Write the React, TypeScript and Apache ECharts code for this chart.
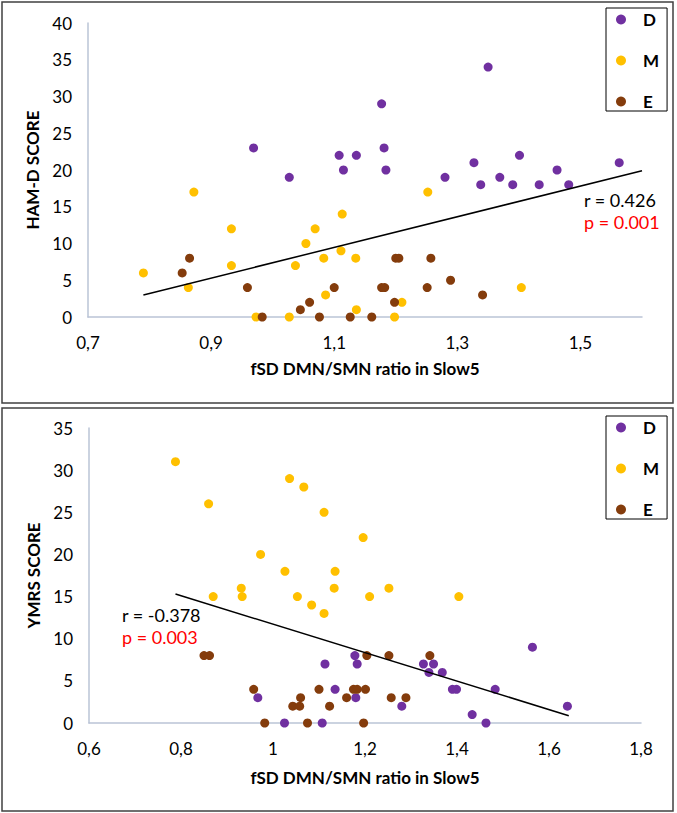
import React, { useEffect, useRef } from "react";
import * as echarts from "echarts";

// ---- Data ----
const groupNames = ["D", "M", "E"];
const groupColors = ["#7030A0", "#FFC000", "#843C0C"];

// Top panel: HAM-D score vs fSD DMN/SMN ratio
const hamD_D: number[][] = [
  [0.969, 23], [1.027, 19], [1.108, 22], [1.115, 20], [1.136, 22], [1.177, 29],
  [1.181, 23], [1.184, 20], [1.28, 19], [1.327, 21], [1.338, 18], [1.35, 34],
  [1.369, 19], [1.39, 18], [1.401, 22], [1.433, 18], [1.462, 20], [1.481, 18],
  [1.563, 21],
];
const hamD_M: number[][] = [
  [0.79, 6], [0.872, 17], [0.863, 4], [0.933, 12], [0.933, 7], [0.973, 0],
  [1.027, 0], [1.037, 7], [1.054, 10], [1.069, 12], [1.083, 8], [1.086, 3],
  [1.113, 14], [1.111, 9], [1.135, 8], [1.136, 1], [1.198, 0], [1.21, 2],
  [1.252, 17], [1.404, 4],
];
const hamD_E: number[][] = [
  [0.853, 6], [0.865, 8], [0.959, 4], [0.983, 0], [1.045, 1], [1.06, 2],
  [1.076, 0], [1.1, 4], [1.126, 0], [1.161, 0], [1.177, 4], [1.182, 4],
  [1.198, 2], [1.2, 8], [1.205, 8], [1.251, 4], [1.257, 8], [1.289, 5],
  [1.341, 3],
];
const hamD_trend: number[][] = [[0.79, 3.0], [1.6, 19.9]];
const hamD_stats = ["r = 0.426", "p = 0.001"];

// Bottom panel: YMRS score vs fSD DMN/SMN ratio
const ymrs_D: number[][] = [
  [0.967, 3], [1.025, 0], [1.107, 0], [1.113, 7], [1.135, 4], [1.178, 8],
  [1.183, 7], [1.18, 3], [1.28, 2], [1.327, 7], [1.349, 7], [1.339, 6],
  [1.368, 6], [1.39, 4], [1.399, 4], [1.433, 1], [1.463, 0], [1.483, 4],
  [1.564, 9], [1.64, 2],
];
const ymrs_M: number[][] = [
  [0.788, 31], [0.86, 26], [0.87, 15], [0.931, 16], [0.933, 15], [0.973, 20],
  [1.026, 18], [1.036, 29], [1.053, 15], [1.067, 28], [1.084, 14], [1.111, 25],
  [1.111, 13], [1.135, 18], [1.133, 16], [1.196, 22], [1.21, 15], [1.252, 16],
  [1.404, 15],
];
const ymrs_E: number[][] = [
  [0.85, 8], [0.862, 8], [0.958, 4], [0.982, 0], [1.043, 2], [1.058, 2],
  [1.06, 3], [1.075, 0], [1.1, 4], [1.123, 2], [1.16, 3], [1.175, 4],
  [1.183, 4], [1.197, 0], [1.201, 4], [1.204, 8], [1.252, 8], [1.257, 3],
  [1.289, 3], [1.341, 8],
];
const ymrs_trend: number[][] = [[0.788, 15.3], [1.643, 0.87]];
const ymrs_stats = ["r = -0.378", "p = 0.003"];

const xTitle = "fSD DMN/SMN ratio in Slow5";
const yTitles = ["HAM-D SCORE", "YMRS SCORE"];

const FONT = "Lato, 'Open Sans', sans-serif";
const AXIS_COLOR = "#BAC4D6";

function fmtX(v: number) {
  return String(+v.toFixed(1)).replace(".", ",");
}

export default function App() {
  const ref = useRef<HTMLDivElement>(null);

  useEffect(() => {
    if (!ref.current) return;
    const chart = echarts.init(ref.current, null, { renderer: "svg" });

    const xAxisBase = (idx: number, min: number, max: number, gap: number) => ({
      type: "value" as const,
      gridIndex: idx,
      min,
      max,
      interval: 0.2,
      name: xTitle,
      nameLocation: "middle" as const,
      nameGap: gap,
      nameTextStyle: { fontFamily: FONT, fontSize: 17, fontWeight: "bold", color: "#000" },
      axisLine: { show: true, lineStyle: { color: AXIS_COLOR, width: 1.5 } },
      axisTick: { show: false },
      splitLine: { show: false },
      axisLabel: {
        fontFamily: FONT,
        fontSize: 17,
        color: "#000",
        margin: 17,
        showMaxLabel: idx === 1,
        formatter: (v: number) => fmtX(v),
      },
    });
    const yAxisBase = (idx: number, max: number, gap: number) => ({
      type: "value" as const,
      gridIndex: idx,
      min: 0,
      max,
      interval: 5,
      name: yTitles[idx],
      nameLocation: "middle" as const,
      nameGap: gap,
      nameTextStyle: { fontFamily: FONT, fontSize: 17, fontWeight: "bold", color: "#000" },
      axisLine: { show: true, lineStyle: { color: AXIS_COLOR, width: 1.5 } },
      axisTick: { show: false },
      splitLine: { show: false },
      axisLabel: { fontFamily: FONT, fontSize: 17, color: "#000", margin: 16 },
    });

    const scatter = (name: string, color: string, data: number[][], idx: number) => ({
      type: "scatter" as const,
      name,
      xAxisIndex: idx,
      yAxisIndex: idx,
      data,
      symbol: "circle",
      symbolSize: 9,
      itemStyle: { color, opacity: 1 },
      z: 2,
    });
    const trend = (data: number[][], idx: number) => ({
      type: "line" as const,
      name: "trend" + idx,
      xAxisIndex: idx,
      yAxisIndex: idx,
      data,
      symbol: "none",
      silent: true,
      lineStyle: { color: "#000", width: 1.5 },
      z: 3,
    });

    const legendBase = (top: number) => ({
      data: groupNames,
      orient: "vertical" as const,
      left: 606,
      top,
      icon: "circle",
      itemWidth: 10,
      itemHeight: 10,
      itemGap: 24,
      padding: [3, 8, 1, 10],
      borderColor: "#000",
      borderWidth: 1,
      selectedMode: false,
      textStyle: {
        fontFamily: FONT,
        fontSize: 17,
        fontWeight: "bold",
        color: "#000",
        padding: [0, 0, 0, 12],
      },
    });

    const statText = (x: number, y: number, text: string, color: string) => ({
      type: "text" as const,
      x,
      y,
      style: {
        text,
        fill: color,
        fontFamily: FONT,
        fontSize: 18,
        verticalAlign: "middle",
        textAlign: "left",
      },
    });

    const option: any = {
      animation: false,
      backgroundColor: "#fff",
      grid: [
        { left: 88, right: 35, top: 23, height: 294 },
        { left: 89, right: 36, top: 428, height: 295 },
      ],
      xAxis: [xAxisBase(0, 0.7, 1.6, 43), xAxisBase(1, 0.6, 1.8, 46)],
      yAxis: [yAxisBase(0, 40, 41), yAxisBase(1, 35, 42)],
      legend: [legendBase(8), legendBase(416)],
      series: [
        scatter(groupNames[0], groupColors[0], hamD_D, 0),
        scatter(groupNames[1], groupColors[1], hamD_M, 0),
        scatter(groupNames[2], groupColors[2], hamD_E, 0),
        trend(hamD_trend, 0),
        scatter(groupNames[0], groupColors[0], ymrs_D, 1),
        scatter(groupNames[1], groupColors[1], ymrs_M, 1),
        scatter(groupNames[2], groupColors[2], ymrs_E, 1),
        trend(ymrs_trend, 1),
      ],
      graphic: [
        {
          type: "rect",
          shape: { x: 2, y: 2, width: 671, height: 401 },
          style: { fill: "none", stroke: "#404040", lineWidth: 1.5 },
          silent: true,
        },
        {
          type: "rect",
          shape: { x: 2, y: 408, width: 671, height: 403 },
          style: { fill: "none", stroke: "#404040", lineWidth: 1.5 },
          silent: true,
        },
        statText(584, 200, hamD_stats[0], "#000"),
        statText(584, 222, hamD_stats[1], "#FF0000"),
        statText(122, 615, ymrs_stats[0], "#000"),
        statText(122, 637, ymrs_stats[1], "#FF0000"),
      ],
    };

    chart.setOption(option);
    return () => chart.dispose();
  }, []);

  return (
    <div
      ref={ref}
      style={{ position: "fixed", left: 0, top: 0, width: 677, height: 813, background: "#fff" }}
    />
  );
}
